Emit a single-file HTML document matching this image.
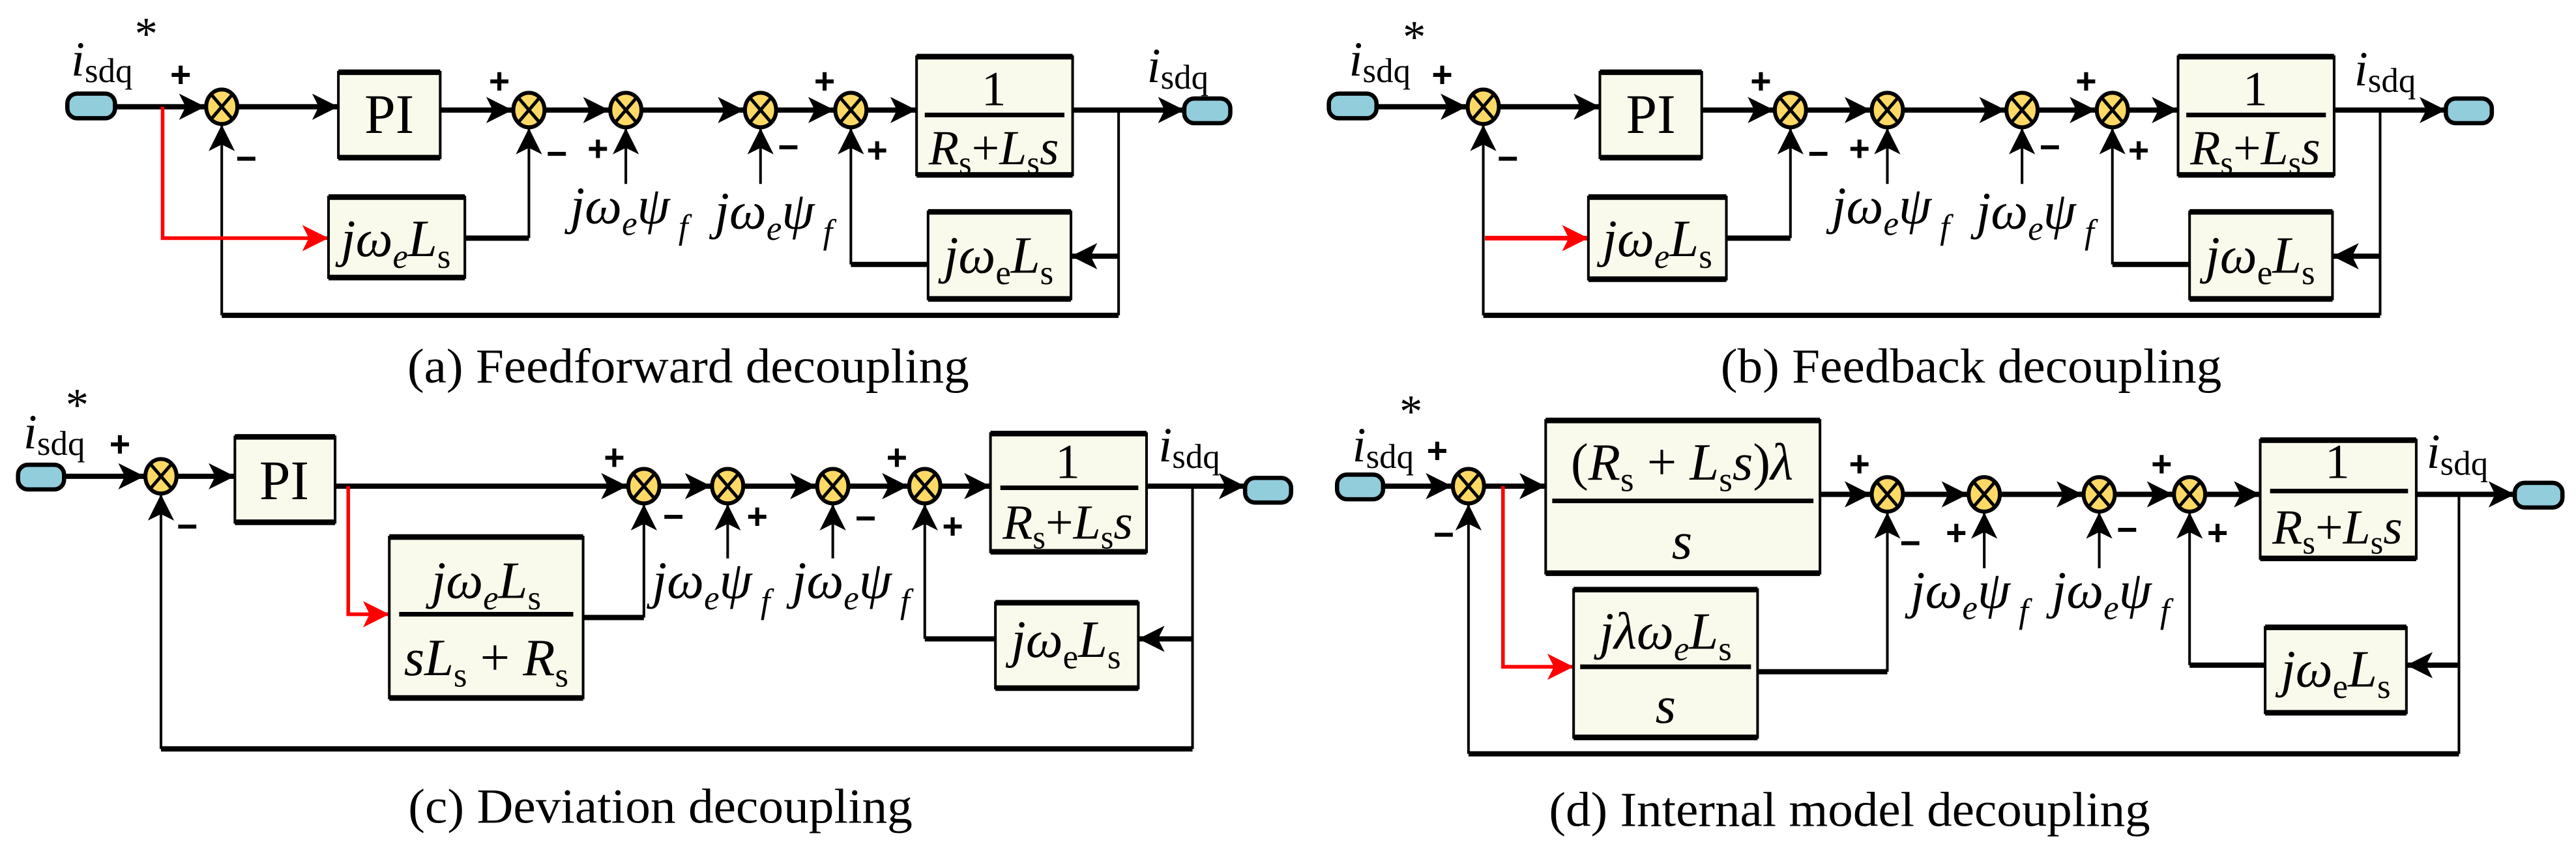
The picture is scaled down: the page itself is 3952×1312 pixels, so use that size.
<!DOCTYPE html>
<html><head><meta charset="utf-8"><style>
html,body{margin:0;padding:0;background:#fff}
svg{display:block}
text{font-family:"Liberation Serif","Times New Roman",serif}
.it{font-style:italic}
.sg{font-family:"Liberation Sans",sans-serif;font-weight:bold;font-size:22px}
.cap{font-size:30px}
</style></head><body>
<svg width="3952" height="1312" viewBox="0 0 1568.25 520.6" preserveAspectRatio="none" xmlns="http://www.w3.org/2000/svg">
<defs>
<marker id="ar" markerUnits="userSpaceOnUse" markerWidth="16" markerHeight="16" refX="16" refY="8" orient="auto"><path d="M0,0L16,8L0,16L4,8z" fill="#000"/></marker>
<marker id="ar2" markerUnits="userSpaceOnUse" markerWidth="16" markerHeight="16" refX="16" refY="8" orient="auto"><path d="M0,0L16,8L0,16L4,8z" fill="#f00"/></marker>
<g id="sum"><ellipse cx="0" cy="0" rx="9.5" ry="10.5" fill="#FFD966" stroke="#000" stroke-width="2.4"/><path d="M-6,-7L6,7M6,-7L-6,7" stroke="#000" stroke-width="2"/></g>
</defs>
<g fill="none" stroke="#000">

<!-- ===== PANEL A ===== -->
<g id="pa">
<rect x="41" y="57" width="29" height="15" rx="6" fill="#92CDDC" stroke-width="2.6"/>
<g stroke-width="3.2">
<path d="M70,65H125" marker-end="url(#ar)"/>
<path d="M145,65H206" marker-end="url(#ar)"/>
<path d="M268,67H312" marker-end="url(#ar)"/>
<path d="M332,67H371" marker-end="url(#ar)"/>
<path d="M391,67H453" marker-end="url(#ar)"/>
<path d="M473,67H508" marker-end="url(#ar)"/>
<path d="M528,67H558" marker-end="url(#ar)"/>
<path d="M653,67H721" marker-end="url(#ar)"/>
<path d="M681,192H135"/>
<path d="M283,145H322"/>
<path d="M565,161H518"/>
</g>
<g stroke-width="1.6">
<path d="M681,67V192"/>
<path d="M135,192V76" marker-end="url(#ar)"/>
<path d="M322,145V78" marker-end="url(#ar)"/>
<path d="M518,161V78" marker-end="url(#ar)"/>
<path d="M381,112V78" marker-end="url(#ar)"/>
<path d="M463,112V78" marker-end="url(#ar)"/>
<path d="M681,156H652" stroke-width="3.2" marker-end="url(#ar)"/>
</g>
<rect x="721" y="60" width="28" height="15" rx="6" fill="#92CDDC" stroke-width="2.6"/>
<use href="#sum" x="135" y="65"/><use href="#sum" x="322" y="67"/><use href="#sum" x="381" y="67"/><use href="#sum" x="463" y="67"/><use href="#sum" x="518" y="67"/>
<rect x="206" y="44" width="62" height="52" fill="#F9F9EC" stroke-width="1.6"/><path d="M206,44H268M206,96H268" stroke-width="3.4"/>
<rect x="558" y="34.5" width="95" height="72" fill="#F9F9EC" stroke-width="1.6"/><path d="M558,34.5H653M558,106.5H653" stroke-width="3.4"/><path d="M563,70H648" stroke-width="2.8"/>
<rect x="565" y="129" width="87" height="53" fill="#F9F9EC" stroke-width="1.6"/><path d="M565,129H652M565,182H652" stroke-width="3.4"/>
</g>
<path d="M99,65V145H200" stroke="#f00" stroke-width="2.2" marker-end="url(#ar2)"/>
<rect x="200" y="120" width="83" height="49" fill="#F9F9EC" stroke-width="1.6"/><path d="M200,120H283M200,169H283" stroke-width="3.4"/>

<!-- ===== PANEL B ===== -->
<use href="#pa" x="768" y="0"/>
<path d="M904,145H967" stroke="#f00" stroke-width="2.8" marker-end="url(#ar2)"/>
<rect x="967" y="120" width="84" height="50" fill="#F9F9EC" stroke-width="1.6"/><path d="M967,120H1051M967,170H1051" stroke-width="3.4"/>

<!-- ===== PANEL C ===== -->
<rect x="11" y="283" width="28" height="15" rx="6" fill="#92CDDC" stroke-width="2.6"/>
<rect x="758" y="291" width="28" height="15" rx="6" fill="#92CDDC" stroke-width="2.6"/>
<g stroke-width="3.2">
<path d="M39,290H88" marker-end="url(#ar)"/>
<path d="M108,290H143" marker-end="url(#ar)"/>
<path d="M204,296H382" marker-end="url(#ar)"/>
<path d="M402,296H433" marker-end="url(#ar)"/>
<path d="M453,296H497" marker-end="url(#ar)"/>
<path d="M517,296H553" marker-end="url(#ar)"/>
<path d="M573,296H603" marker-end="url(#ar)"/>
<path d="M698,296H758" marker-end="url(#ar)"/>
<path d="M726,456H98"/>
<path d="M355,376H392"/>
<path d="M606,389H563"/>
<path d="M726,389H693" marker-end="url(#ar)"/>
</g>
<g stroke-width="1.6">
<path d="M726,296V456"/>
<path d="M98,456V301" marker-end="url(#ar)"/>
<path d="M392,376V307" marker-end="url(#ar)"/>
<path d="M563,389V307" marker-end="url(#ar)"/>
<path d="M443,340V307" marker-end="url(#ar)"/>
<path d="M507,340V307" marker-end="url(#ar)"/>
</g>
<path d="M212,296V374H237" stroke="#f00" stroke-width="2.2" marker-end="url(#ar2)"/>
<use href="#sum" x="98" y="290"/><use href="#sum" x="392" y="296"/><use href="#sum" x="443" y="296"/><use href="#sum" x="507" y="296"/><use href="#sum" x="563" y="296"/>
<rect x="143" y="266" width="61" height="52" fill="#F9F9EC" stroke-width="1.6"/><path d="M143,266H204M143,318H204" stroke-width="3.4"/>
<rect x="603" y="264" width="95" height="72" fill="#F9F9EC" stroke-width="1.6"/><path d="M603,264H698M603,336H698" stroke-width="3.4"/><path d="M609,297H693" stroke-width="2.8"/>
<rect x="237" y="327" width="118" height="98" fill="#F9F9EC" stroke-width="1.6"/><path d="M237,327H355M237,425H355" stroke-width="3.4"/><path d="M243,374H349" stroke-width="2.8"/>
<rect x="606" y="367" width="87" height="52" fill="#F9F9EC" stroke-width="1.6"/><path d="M606,367H693M606,419H693" stroke-width="3.4"/>

<!-- ===== PANEL D ===== -->
<rect x="814" y="289" width="28" height="15" rx="6" fill="#92CDDC" stroke-width="2.6"/>
<rect x="1531" y="294" width="29" height="15" rx="6" fill="#92CDDC" stroke-width="2.6"/>
<g stroke-width="3.2">
<path d="M842,296H884" marker-end="url(#ar)"/>
<path d="M904,296H941" marker-end="url(#ar)"/>
<path d="M1108,301H1139" marker-end="url(#ar)"/>
<path d="M1159,301H1198" marker-end="url(#ar)"/>
<path d="M1218,301H1268" marker-end="url(#ar)"/>
<path d="M1288,301H1323" marker-end="url(#ar)"/>
<path d="M1343,301H1376" marker-end="url(#ar)"/>
<path d="M1471,301H1531" marker-end="url(#ar)"/>
<path d="M1497,459H894"/>
<path d="M1070,409H1149"/>
<path d="M1379,405H1333"/>
<path d="M1497,405H1465" marker-end="url(#ar)"/>
</g>
<g stroke-width="1.6">
<path d="M1497,301V459"/>
<path d="M894,459V307" marker-end="url(#ar)"/>
<path d="M1149,409V312" marker-end="url(#ar)"/>
<path d="M1333,405V312" marker-end="url(#ar)"/>
<path d="M1208,346V312" marker-end="url(#ar)"/>
<path d="M1278,346V312" marker-end="url(#ar)"/>
</g>
<path d="M915,296V406H958" stroke="#f00" stroke-width="2.2" marker-end="url(#ar2)"/>
<use href="#sum" x="894" y="296"/><use href="#sum" x="1149" y="301"/><use href="#sum" x="1208" y="301"/><use href="#sum" x="1278" y="301"/><use href="#sum" x="1333" y="301"/>
<rect x="941" y="256" width="167" height="93" fill="#F9F9EC" stroke-width="1.6"/><path d="M941,256H1108M941,349H1108" stroke-width="3.4"/><path d="M945,305H1104" stroke-width="2.8"/>
<rect x="1376" y="268" width="95" height="72" fill="#F9F9EC" stroke-width="1.6"/><path d="M1376,268H1471M1376,340H1471" stroke-width="3.4"/><path d="M1382,299H1466" stroke-width="2.8"/>
<rect x="958" y="359" width="112" height="90" fill="#F9F9EC" stroke-width="1.6"/><path d="M958,359H1070M958,449H1070" stroke-width="3.4"/><path d="M962,406H1066" stroke-width="2.8"/>
<rect x="1379" y="382" width="86" height="52" fill="#F9F9EC" stroke-width="1.6"/><path d="M1379,382H1465M1379,434H1465" stroke-width="3.4"/>
</g>

<!-- ===== TEXT ===== -->
<g fill="#000" text-anchor="middle">
<text x="237" y="81" font-size="34">PI</text>
<text x="605" y="64" font-size="30">1</text>
<text x="605" y="100" font-size="30" class="it">R<tspan font-style="normal" font-size="20" dy="6">s</tspan><tspan font-style="normal" dy="-6">+</tspan>L<tspan font-style="normal" font-size="20" dy="6">s</tspan><tspan dy="-6">s</tspan></text>
<text x="241" y="156" font-size="32" class="it">jω<tspan font-size="21" dy="7">e</tspan><tspan dy="-7">L</tspan><tspan font-style="normal" font-size="21" dy="7">s</tspan></text>
<text x="608" y="166" font-size="32" class="it">jω<tspan font-style="normal" font-size="21" dy="7">e</tspan><tspan dy="-7">L</tspan><tspan font-style="normal" font-size="21" dy="7">s</tspan></text>
<text x="383" y="136" font-size="32" class="it">jω<tspan font-size="21" dy="7">e</tspan><tspan dy="-7">ψ</tspan><tspan font-size="21" dy="9"> f</tspan></text>
<text x="471" y="139" font-size="32" class="it">jω<tspan font-size="21" dy="7">e</tspan><tspan dy="-7">ψ</tspan><tspan font-size="21" dy="9"> f</tspan></text>
<text x="62" y="46" font-size="30" class="it">i<tspan font-style="normal" font-size="21" dy="4">sdq</tspan></text>
<text x="89" y="30" font-size="28">*</text>
<text x="717" y="50" font-size="30" class="it">i<tspan font-style="normal" font-size="21" dy="4">sdq</tspan></text>
<text class="sg" x="110" y="53">+</text><text class="sg" x="150" y="104">−</text>
<text class="sg" x="304" y="57">+</text><text class="sg" x="339" y="101">−</text><text class="sg" x="364" y="98">+</text>
<text class="sg" x="480" y="97">−</text><text class="sg" x="502" y="57">+</text><text class="sg" x="534" y="99">+</text>
<text class="cap" x="419" y="233" textLength="342" lengthAdjust="spacingAndGlyphs">(a) Feedforward decoupling</text>

<text x="1005" y="81" font-size="34">PI</text>
<text x="1373" y="64" font-size="30">1</text>
<text x="1373" y="100" font-size="30" class="it">R<tspan font-style="normal" font-size="20" dy="6">s</tspan><tspan font-style="normal" dy="-6">+</tspan>L<tspan font-style="normal" font-size="20" dy="6">s</tspan><tspan dy="-6">s</tspan></text>
<text x="1009" y="156" font-size="32" class="it">jω<tspan font-size="21" dy="7">e</tspan><tspan dy="-7">L</tspan><tspan font-style="normal" font-size="21" dy="7">s</tspan></text>
<text x="1376" y="166" font-size="32" class="it">jω<tspan font-style="normal" font-size="21" dy="7">e</tspan><tspan dy="-7">L</tspan><tspan font-style="normal" font-size="21" dy="7">s</tspan></text>
<text x="1151" y="136" font-size="32" class="it">jω<tspan font-size="21" dy="7">e</tspan><tspan dy="-7">ψ</tspan><tspan font-size="21" dy="9"> f</tspan></text>
<text x="1239" y="139" font-size="32" class="it">jω<tspan font-size="21" dy="7">e</tspan><tspan dy="-7">ψ</tspan><tspan font-size="21" dy="9"> f</tspan></text>
<text x="840" y="46" font-size="30" class="it">i<tspan font-style="normal" font-size="21" dy="4">sdq</tspan></text>
<text x="861" y="32" font-size="28">*</text>
<text x="1452" y="52" font-size="30" class="it">i<tspan font-style="normal" font-size="21" dy="4">sdq</tspan></text>
<text class="sg" x="878" y="53">+</text><text class="sg" x="918" y="104">−</text>
<text class="sg" x="1072" y="57">+</text><text class="sg" x="1107" y="101">−</text><text class="sg" x="1132" y="98">+</text>
<text class="sg" x="1248" y="97">−</text><text class="sg" x="1270" y="57">+</text><text class="sg" x="1302" y="99">+</text>
<text class="cap" x="1200" y="233" textLength="305" lengthAdjust="spacingAndGlyphs">(b) Feedback decoupling</text>

<text x="173" y="304" font-size="34">PI</text>
<text x="650" y="291" font-size="30">1</text>
<text x="650" y="328" font-size="30" class="it">R<tspan font-style="normal" font-size="20" dy="6">s</tspan><tspan font-style="normal" dy="-6">+</tspan>L<tspan font-style="normal" font-size="20" dy="6">s</tspan><tspan dy="-6">s</tspan></text>
<text x="296" y="364" font-size="32" class="it">jω<tspan font-size="21" dy="7">e</tspan><tspan dy="-7">L</tspan><tspan font-style="normal" font-size="21" dy="7">s</tspan></text>
<text x="296" y="411" font-size="32" class="it">sL<tspan font-style="normal" font-size="21" dy="7">s</tspan><tspan font-style="normal" dy="-7"> + </tspan>R<tspan font-style="normal" font-size="21" dy="7">s</tspan></text>
<text x="649" y="400" font-size="32" class="it">jω<tspan font-style="normal" font-size="21" dy="7">e</tspan><tspan dy="-7">L</tspan><tspan font-style="normal" font-size="21" dy="7">s</tspan></text>
<text x="433" y="364" font-size="32" class="it">jω<tspan font-size="21" dy="7">e</tspan><tspan dy="-7">ψ</tspan><tspan font-size="21" dy="9"> f</tspan></text>
<text x="518" y="364" font-size="32" class="it">jω<tspan font-size="21" dy="7">e</tspan><tspan dy="-7">ψ</tspan><tspan font-size="21" dy="9"> f</tspan></text>
<text x="33" y="273" font-size="30" class="it">i<tspan font-style="normal" font-size="21" dy="4">sdq</tspan></text>
<text x="47" y="256" font-size="28">*</text>
<text x="724" y="281" font-size="30" class="it">i<tspan font-style="normal" font-size="21" dy="4">sdq</tspan></text>
<text class="sg" x="73" y="278">+</text><text class="sg" x="114" y="328">−</text>
<text class="sg" x="374" y="286">+</text><text class="sg" x="410" y="322">−</text><text class="sg" x="461" y="322">+</text>
<text class="sg" x="527" y="323">−</text><text class="sg" x="546" y="286">+</text><text class="sg" x="580" y="328">+</text>
<text class="cap" x="402" y="501" textLength="307" lengthAdjust="spacingAndGlyphs">(c) Deviation decoupling</text>

<text x="1024" y="292" font-size="32" class="it"><tspan font-style="normal">(</tspan>R<tspan font-style="normal" font-size="21" dy="7">s</tspan><tspan font-style="normal" dy="-7"> + </tspan>L<tspan font-style="normal" font-size="21" dy="7">s</tspan><tspan dy="-7">s</tspan><tspan font-style="normal">)</tspan>λ</text>
<text x="1024" y="340" font-size="32" class="it">s</text>
<text x="1423" y="291" font-size="30">1</text>
<text x="1423" y="331" font-size="30" class="it">R<tspan font-style="normal" font-size="20" dy="6">s</tspan><tspan font-style="normal" dy="-6">+</tspan>L<tspan font-style="normal" font-size="20" dy="6">s</tspan><tspan dy="-6">s</tspan></text>
<text x="1014" y="395" font-size="32" class="it">jλω<tspan font-size="21" dy="7">e</tspan><tspan dy="-7">L</tspan><tspan font-style="normal" font-size="21" dy="7">s</tspan></text>
<text x="1014" y="440" font-size="32" class="it">s</text>
<text x="1422" y="418" font-size="32" class="it">jω<tspan font-style="normal" font-size="21" dy="7">e</tspan><tspan dy="-7">L</tspan><tspan font-style="normal" font-size="21" dy="7">s</tspan></text>
<text x="1199" y="370" font-size="32" class="it">jω<tspan font-size="21" dy="7">e</tspan><tspan dy="-7">ψ</tspan><tspan font-size="21" dy="9"> f</tspan></text>
<text x="1285" y="370" font-size="32" class="it">jω<tspan font-size="21" dy="7">e</tspan><tspan dy="-7">ψ</tspan><tspan font-size="21" dy="9"> f</tspan></text>
<text x="842" y="281" font-size="30" class="it">i<tspan font-style="normal" font-size="21" dy="4">sdq</tspan></text>
<text x="859" y="260" font-size="28">*</text>
<text x="1496" y="285" font-size="30" class="it">i<tspan font-style="normal" font-size="21" dy="4">sdq</tspan></text>
<text class="sg" x="875" y="282">+</text><text class="sg" x="879" y="333">−</text>
<text class="sg" x="1132" y="290">+</text><text class="sg" x="1163" y="338">−</text><text class="sg" x="1191" y="332">+</text>
<text class="sg" x="1295" y="330">−</text><text class="sg" x="1316" y="290">+</text><text class="sg" x="1350" y="332">+</text>
<text class="cap" x="1126" y="503" textLength="366" lengthAdjust="spacingAndGlyphs">(d) Internal model decoupling</text>
</g>
</svg>
</body></html>
